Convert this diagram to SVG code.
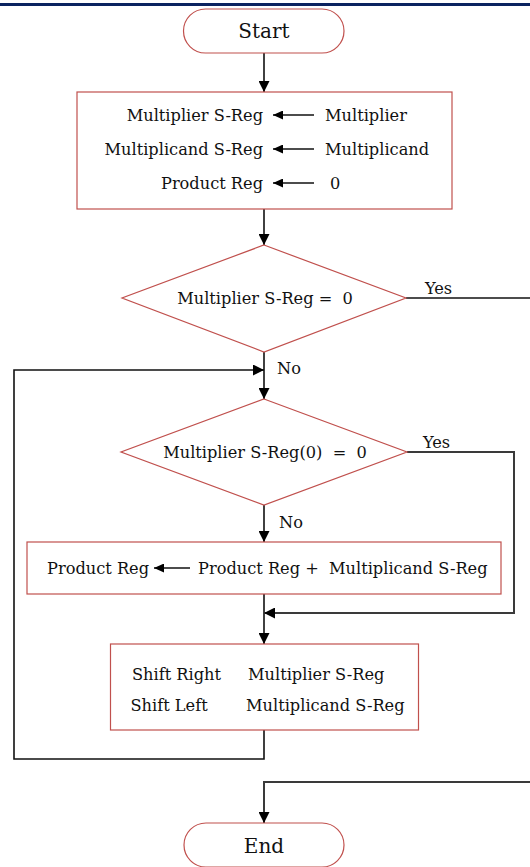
<svg xmlns="http://www.w3.org/2000/svg" width="530" height="867" viewBox="0 0 530 867">
  <style>
    .shape { fill: #ffffff; stroke: #c0504d; stroke-width: 1.2; }
    .lbl { font-family: "DejaVu Serif", "Liberation Serif", serif; font-size: 16.2px; fill: #111111; white-space: pre; }
    .big { font-size: 20px; }
    .wire { fill: none; stroke: #111111; stroke-width: 1.6; }
    .wire2 { fill: none; stroke: #3a3a3a; stroke-width: 2; }
  </style>
  <defs>
    <marker id="arrow" viewBox="0 0 10 10" refX="10" refY="5" markerWidth="10" markerHeight="9" markerUnits="userSpaceOnUse" orient="auto" preserveAspectRatio="none">
      <path d="M0,0 L10,5 L0,10 z" fill="#000000"/>
    </marker>
    <marker id="arrowBig" viewBox="0 0 10 10" refX="10" refY="5" markerWidth="11" markerHeight="11" markerUnits="userSpaceOnUse" orient="auto">
      <path d="M0,0 L10,5 L0,10 z" fill="#000000"/>
    </marker>
  </defs>

  <rect x="0" y="3" width="530" height="3" fill="#0b2360"/>

  <g id="connectors">
    <line class="wire" x1="264" y1="53" x2="264" y2="92" marker-end="url(#arrowBig)"/>
    <line class="wire" x1="264" y1="209" x2="264" y2="245" marker-end="url(#arrowBig)"/>
    <line class="wire" x1="264" y1="352" x2="264" y2="399" marker-end="url(#arrowBig)"/>
    <line class="wire" x1="264" y1="505" x2="264" y2="542" marker-end="url(#arrowBig)"/>
    <line class="wire" x1="264" y1="594" x2="264" y2="644" marker-end="url(#arrowBig)"/>
    <!-- loop back from the shift block -->
    <polyline class="wire" points="264,730 264,759 14,759 14,370 264,370" marker-end="url(#arrowBig)"/>
    <!-- Yes branch of the bit test -->
    <polyline class="wire2" points="407,452 514,452 514,613 264,613" marker-end="url(#arrowBig)"/>
    <!-- Yes branch of the zero test (exits right) -->
    <line class="wire" x1="406" y1="298" x2="530" y2="298"/>
    <!-- return to End -->
    <polyline class="wire2" points="530,782 264,782 264,823" marker-end="url(#arrowBig)"/>
    <text class="lbl" x="425" y="294">Yes</text>
    <text class="lbl" x="277" y="374">No</text>
    <text class="lbl" x="423" y="448">Yes</text>
    <text class="lbl" x="279" y="528">No</text>
  </g>

  <g id="start">
    <rect class="shape" x="183.5" y="9" width="160.5" height="44" rx="22" ry="22"/>
    <text class="lbl big" x="264" y="38" text-anchor="middle">Start</text>
  </g>

  <g id="init">
    <rect class="shape" x="77" y="92" width="375" height="117"/>
    <text class="lbl" x="263" y="121" text-anchor="end">Multiplier S-Reg</text>
    <line class="wire" x1="314" y1="115" x2="273" y2="115" marker-end="url(#arrow)"/>
    <text class="lbl" x="325" y="121">Multiplier</text>
    <text class="lbl" x="263" y="155" text-anchor="end">Multiplicand S-Reg</text>
    <line class="wire" x1="314" y1="149" x2="273" y2="149" marker-end="url(#arrow)"/>
    <text class="lbl" x="325" y="155">Multiplicand</text>
    <text class="lbl" x="263" y="189" text-anchor="end">Product Reg</text>
    <line class="wire" x1="314" y1="183" x2="273" y2="183" marker-end="url(#arrow)"/>
    <text class="lbl" x="330" y="189">0</text>
  </g>

  <g id="test-zero">
    <polygon class="shape" points="264,245 406,298 264,352 122,298"/>
    <text class="lbl" x="265" y="304" text-anchor="middle">Multiplier S-Reg =  0</text>
  </g>

  <g id="test-bit">
    <polygon class="shape" points="264,399 407,452 264,505 121,452"/>
    <text class="lbl" x="265" y="458" text-anchor="middle">Multiplier S-Reg(0)  =  0</text>
  </g>

  <g id="add">
    <rect class="shape" x="27" y="542" width="474" height="52"/>
    <text class="lbl" x="47" y="574">Product Reg</text>
    <line class="wire" x1="190" y1="568" x2="154" y2="568" marker-end="url(#arrow)"/>
    <text class="lbl" x="198" y="574">Product Reg +  Multiplicand S-Reg</text>
  </g>

  <g id="shift">
    <rect class="shape" x="110.5" y="644" width="308" height="86"/>
    <text class="lbl" x="132" y="680">Shift Right</text>
    <text class="lbl" x="248" y="680">Multiplier S-Reg</text>
    <text class="lbl" x="130.5" y="711">Shift Left</text>
    <text class="lbl" x="246" y="711">Multiplicand S-Reg</text>
  </g>

  <g id="end">
    <rect class="shape" x="184" y="823" width="160" height="44" rx="22" ry="22"/>
    <text class="lbl big" x="264" y="853" text-anchor="middle">End</text>
  </g>
</svg>
